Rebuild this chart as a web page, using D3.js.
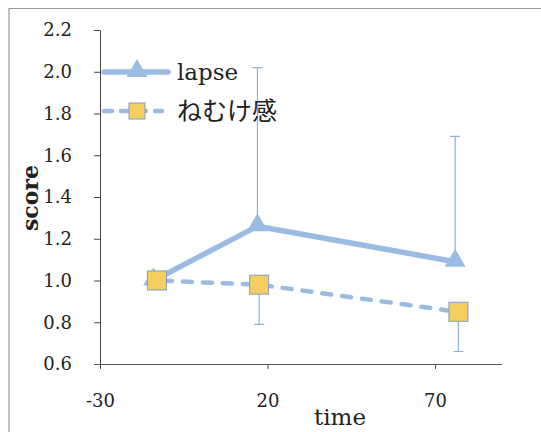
<!DOCTYPE html>
<html>
<head>
<meta charset="utf-8">
<script src="https://cdn.jsdelivr.net/npm/d3@7"></script>
<style>
  body { margin: 0; background: #fff; }
  svg text { font-family: "DejaVu Serif", serif !important; fill: #222; }
  svg text.jp { font-family: "Noto Sans CJK JP", sans-serif !important; }
</style>
</head>
<body>
<svg id="chart" width="541" height="432"></svg>
<script>
// values
var seriesNames = ["lapse", "ねむけ感"];
var lapseTime = [-14, 17, 76];
var lapseScore = [1.0, 1.26, 1.09];
var lapseErrUp = [0, 0.76, 0.60];
var nemukeTime = [-13, 17.5, 77];
var nemukeScore = [1.0, 0.98, 0.85];
var nemukeErrDown = [0, 0.19, 0.19];
var xTicks = [-30, 20, 70];
var yTicks = [0.6, 0.8, 1.0, 1.2, 1.4, 1.6, 1.8, 2.0, 2.2];

var lineColor = "#9bbce2";
var errColor = "#8fb2dc";
var boxFill = "#f6cd5f";

var svg = d3.select("#chart");

// outer frame
svg.append("path")
    .attr("d", "M9,440 V8.5 H541")
    .attr("fill", "none")
    .attr("stroke", "#9a9a9a")
    .attr("stroke-width", 1.2);

var x = d3.scaleLinear().domain([-30, 90]).range([100, 502]);
var y = d3.scaleLinear().domain([0.6, 2.2]).range([364, 30]);

// y axis
var yAxis = svg.append("g")
    .attr("transform", "translate(100,0)")
    .call(d3.axisLeft(y).tickValues(yTicks).tickFormat(d3.format(".1f")).tickSize(6).tickSizeOuter(0));
yAxis.attr("font-family", null);
yAxis.select(".domain").attr("stroke", "#444");
yAxis.selectAll(".tick line").attr("stroke", "#444");
yAxis.selectAll("text").attr("font-size", 18).attr("x", -28).attr("fill", "#222");

// x axis
var xAxis = svg.append("g")
    .attr("transform", "translate(0,364)")
    .call(d3.axisBottom(x).tickValues(xTicks).tickSize(5).tickSizeOuter(0));
xAxis.attr("font-family", null);
xAxis.select(".domain").attr("stroke", "#555").attr("d", "M94,0.5H502");
xAxis.selectAll(".tick line").attr("stroke", "#555");
xAxis.selectAll("text").attr("font-size", 18).attr("y", 43).attr("dy", 0).attr("fill", "#222")
    .text(function (d) { return d < 0 ? "-" + Math.abs(d) : d; });

// axis titles
svg.append("text")
    .attr("transform", "translate(38,198) rotate(-90)")
    .attr("text-anchor", "middle")
    .attr("font-size", 22)
    .attr("font-weight", "bold")
    .text("score");

svg.append("text")
    .attr("x", 340)
    .attr("y", 425)
    .attr("text-anchor", "middle")
    .attr("font-size", 23)
    .text("time");

var lapse = lapseTime.map(function (t, i) { return { t: t, v: lapseScore[i], e: lapseErrUp[i] }; });
var nemuke = nemukeTime.map(function (t, i) { return { t: t, v: nemukeScore[i], e: nemukeErrDown[i] }; });

var line = d3.line()
    .x(function (d) { return x(d.t); })
    .y(function (d) { return y(d.v); });

// error bars
svg.selectAll(".errUp")
    .data(lapse.filter(function (d) { return d.e > 0; }))
    .enter().append("path")
    .attr("d", function (d) {
        var cx = x(d.t), top = y(d.v + d.e);
        return "M" + cx + "," + y(d.v) + "V" + top + "M" + (cx - 5) + "," + top + "H" + (cx + 5);
    })
    .attr("stroke", errColor)
    .attr("stroke-width", 1.2)
    .attr("fill", "none");

svg.selectAll(".errDown")
    .data(nemuke.filter(function (d) { return d.e > 0; }))
    .enter().append("path")
    .attr("d", function (d) {
        var cx = x(d.t), bot = y(d.v - d.e);
        return "M" + cx + "," + y(d.v) + "V" + bot + "M" + (cx - 5) + "," + bot + "H" + (cx + 5);
    })
    .attr("stroke", errColor)
    .attr("stroke-width", 1.2)
    .attr("fill", "none");

// lapse line + triangles
svg.append("path")
    .datum(lapse)
    .attr("d", line)
    .attr("fill", "none")
    .attr("stroke", lineColor)
    .attr("stroke-width", 5.5)
    .attr("stroke-linejoin", "round");

var tri = d3.symbol().type(d3.symbolTriangle).size(190);
svg.selectAll(".tri")
    .data(lapse)
    .enter().append("path")
    .attr("transform", function (d) { return "translate(" + x(d.t) + "," + (y(d.v) - 1) + ")"; })
    .attr("d", tri)
    .attr("fill", lineColor);

// nemuke dashed line + squares
svg.append("path")
    .datum(nemuke)
    .attr("d", line)
    .attr("fill", "none")
    .attr("stroke", lineColor)
    .attr("stroke-width", 4.5)
    .attr("stroke-dasharray", "9,11")
    .attr("stroke-dashoffset", -6)
    .attr("stroke-linecap", "round");

svg.selectAll(".box")
    .data(nemuke)
    .enter().append("rect")
    .attr("x", function (d) { return x(d.t) - 9.5; })
    .attr("y", function (d) { return y(d.v) - 9.5; })
    .attr("width", 19)
    .attr("height", 19)
    .attr("fill", boxFill)
    .attr("stroke", "#7f9fc8")
    .attr("stroke-width", 1);

// legend
var leg = svg.append("g");
leg.append("line")
    .attr("x1", 104).attr("x2", 168).attr("y1", 72).attr("y2", 72)
    .attr("stroke", lineColor).attr("stroke-width", 5.5).attr("stroke-linecap", "round");
leg.append("path")
    .attr("transform", "translate(137,71)")
    .attr("d", tri)
    .attr("fill", lineColor);
leg.append("text")
    .attr("x", 177).attr("y", 80)
    .attr("font-size", 23)
    .text(seriesNames[0]);

leg.append("line")
    .attr("x1", 104).attr("x2", 162).attr("y1", 111).attr("y2", 111)
    .attr("stroke", lineColor).attr("stroke-width", 4.5)
    .attr("stroke-dasharray", "8,9").attr("stroke-linecap", "round");
leg.append("rect")
    .attr("x", 129).attr("y", 103).attr("width", 16).attr("height", 16)
    .attr("fill", boxFill).attr("stroke", "#7f9fc8").attr("stroke-width", 1);
leg.append("text")
    .attr("class", "jp")
    .attr("x", 177).attr("y", 120)
    .attr("font-size", 25)
    .text(seriesNames[1]);
</script>
</body>
</html>
